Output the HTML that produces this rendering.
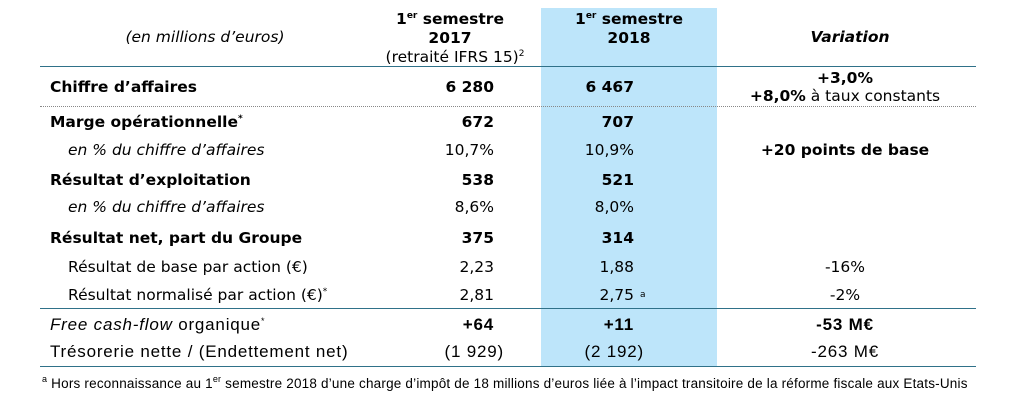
<!DOCTYPE html>
<html><head><meta charset="utf-8"><style>
body{margin:0;width:1011px;height:406px;background:#fff;position:relative;overflow:hidden;font-family:"DejaVu Sans",Verdana,sans-serif;font-size:15.5px;color:#000}
.a{position:absolute;white-space:nowrap;line-height:18px}
.r{text-align:right}.c{text-align:center}
.b{font-weight:bold}.i{font-style:italic}
.blue{position:absolute;left:541px;top:8px;width:176px;height:359px;background:#bde5fa}
.sl{position:absolute;left:40px;width:936px;height:0;border-top:1.5px solid #2f7189}
.dl{position:absolute;left:40px;width:936px;height:0;border-top:1px dotted #888}
sup{font-size:9px;vertical-align:6px;line-height:0}
.n{font-family:"Liberation Sans",Arial,sans-serif;font-size:17px;letter-spacing:0.8px}
</style></head><body>
<div class="blue"></div>
<div class="a i c" style="left:80px;width:250px;top:28px">(en millions d’euros)</div>
<div class="a b c" style="left:365px;width:170px;top:10px;line-height:19px">1<sup>er</sup> semestre<br>2017</div>
<div class="a c" style="left:365px;width:180px;top:48px">(retraité IFRS 15)<sup>2</sup></div>
<div class="a b c" style="left:541px;width:176px;top:10px;line-height:19px">1<sup>er</sup> semestre<br>2018</div>
<div class="a b i c" style="left:730px;width:240px;top:28px">Variation</div>
<div class="sl" style="top:66px"></div>

<div class="a b" style="left:50px;top:78px">Chiffre d’affaires</div>
<div class="a b r" style="left:390px;width:104px;top:78px">6 280</div>
<div class="a b r" style="left:530px;width:104px;top:78px">6 467</div>
<div class="a c" style="left:720px;width:250px;top:69px;line-height:18px"><b>+3,0%</b><br><b>+8,0%</b> à taux constants</div>
<div class="dl" style="top:106px"></div>

<div class="a b" style="left:50px;top:113px">Marge opérationnelle<sup>*</sup></div>
<div class="a b r" style="left:390px;width:104px;top:113px">672</div>
<div class="a b r" style="left:530px;width:104px;top:113px">707</div>
<div class="a i" style="left:68px;top:141px">en % du chiffre d’affaires</div>
<div class="a r" style="left:390px;width:104px;top:141px">10,7%</div>
<div class="a r" style="left:530px;width:104px;top:141px">10,9%</div>
<div class="a b c" style="left:720px;width:250px;top:141px">+20 points de base</div>

<div class="a b" style="left:50px;top:171px">Résultat d’exploitation</div>
<div class="a b r" style="left:390px;width:104px;top:171px">538</div>
<div class="a b r" style="left:530px;width:104px;top:171px">521</div>
<div class="a i" style="left:68px;top:198px">en % du chiffre d’affaires</div>
<div class="a r" style="left:390px;width:104px;top:198px">8,6%</div>
<div class="a r" style="left:530px;width:104px;top:198px">8,0%</div>

<div class="a b" style="left:50px;top:229px">Résultat net, part du Groupe</div>
<div class="a b r" style="left:390px;width:104px;top:229px">375</div>
<div class="a b r" style="left:530px;width:104px;top:229px">314</div>
<div class="a" style="left:68px;top:258px">Résultat de base par action (€)</div>
<div class="a r" style="left:390px;width:104px;top:258px">2,23</div>
<div class="a r" style="left:530px;width:104px;top:258px">1,88</div>
<div class="a c" style="left:720px;width:250px;top:258px">-16%</div>
<div class="a" style="left:68px;top:286px">Résultat normalisé par action (€)<sup>*</sup></div>
<div class="a r" style="left:390px;width:104px;top:286px">2,81</div>
<div class="a r" style="left:530px;width:104px;top:286px">2,75</div>
<div class="a" style="left:640px;top:286px;font-size:9px">a</div>
<div class="a c" style="left:720px;width:250px;top:286px">-2%</div>
<div class="sl" style="top:308px"></div>

<div class="a n" style="left:50px;top:316px"><i>Free cash-flow</i> organique<sup>*</sup></div>
<div class="a n b r" style="left:390px;width:104px;top:316px">+64</div>
<div class="a n b r" style="left:530px;width:104px;top:316px">+11</div>
<div class="a n b c" style="left:720px;width:250px;top:316px">-53 M€</div>
<div class="a n" style="left:50px;top:343px">Trésorerie nette / (Endettement net)</div>
<div class="a n r" style="left:390px;width:114px;top:343px">(1 929)</div>
<div class="a n r" style="left:530px;width:114px;top:343px">(2 192)</div>
<div class="a n c" style="left:720px;width:250px;top:343px">-263 M€</div>
<div class="sl" style="top:366px"></div>

<div class="a n" style="left:42px;top:375px;font-size:13.5px;letter-spacing:0.2px"><sup>a</sup> Hors reconnaissance au 1<sup>er</sup> semestre 2018 d’une charge d’impôt de 18 millions d’euros liée à l’impact transitoire de la réforme fiscale aux Etats-Unis</div>
</body></html>
